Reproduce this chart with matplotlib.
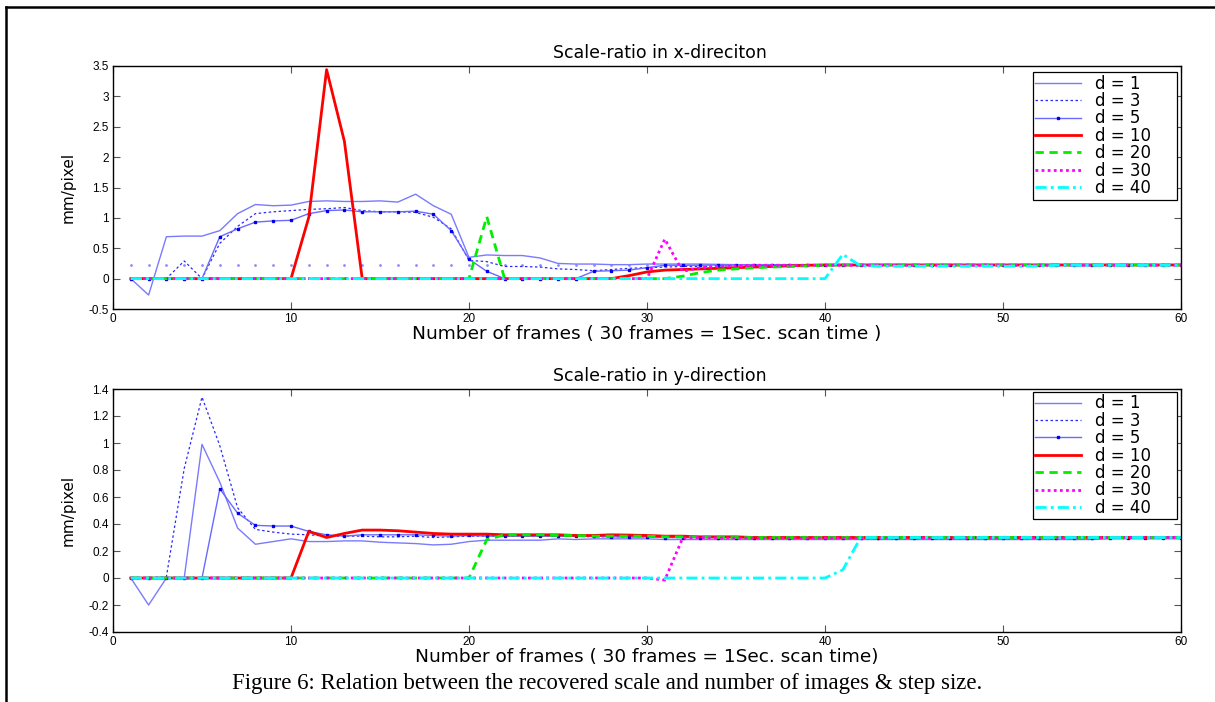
import numpy as np
import matplotlib
matplotlib.use("Agg")
import matplotlib.pyplot as plt
from matplotlib.lines import Line2D

plt.rcParams['font.family'] = ['DejaVu Sans']

# numero de frames
frames = np.arange(1, 61)

# Scale-ratio en x
d1_x = [0.00, -0.27, 0.69, 0.70, 0.70, 0.79, 1.07, 1.22, 1.20, 1.21,
        1.27, 1.28, 1.27, 1.27, 1.28, 1.26, 1.39, 1.20, 1.06, 0.35,
        0.39, 0.38, 0.38, 0.34, 0.25, 0.24, 0.24, 0.23, 0.23, 0.24,
        0.24, 0.24, 0.24, 0.235, 0.23, 0.23, 0.23, 0.23, 0.23, 0.23,
        0.23, 0.23, 0.23, 0.23, 0.23, 0.23, 0.23, 0.23, 0.23, 0.23,
        0.23, 0.23, 0.23, 0.23, 0.23, 0.23, 0.23, 0.23, 0.23, 0.23]
d3_x = [0.00, 0.00, 0.00, 0.29, 0.00, 0.58, 0.86, 1.07, 1.10, 1.12,
        1.14, 1.15, 1.17, 1.12, 1.10, 1.10, 1.09, 1.01, 0.82, 0.30,
        0.28, 0.20, 0.20, 0.19, 0.16, 0.15, 0.13, 0.15, 0.17, 0.18,
        0.19, 0.20, 0.20, 0.21, 0.21, 0.22, 0.22, 0.22, 0.22, 0.22,
        0.22, 0.22, 0.22, 0.22, 0.22, 0.22, 0.22, 0.22, 0.22, 0.22,
        0.22, 0.22, 0.22, 0.22, 0.22, 0.22, 0.22, 0.22, 0.22, 0.22]
d5_x = [0.00, 0.00, 0.00, 0.00, 0.00, 0.69, 0.82, 0.93, 0.95, 0.96,
        1.07, 1.12, 1.13, 1.10, 1.10, 1.10, 1.11, 1.06, 0.79, 0.32,
        0.12, 0.00, 0.00, 0.00, 0.00, 0.00, 0.12, 0.13, 0.14, 0.18,
        0.22, 0.22, 0.22, 0.225, 0.225, 0.225, 0.225, 0.225, 0.225, 0.225,
        0.225, 0.225, 0.225, 0.225, 0.225, 0.225, 0.225, 0.225, 0.225, 0.225,
        0.225, 0.225, 0.225, 0.225, 0.225, 0.225, 0.225, 0.225, 0.225, 0.225]
d10_x = [0.00, 0.00, 0.00, 0.00, 0.00, 0.00, 0.00, 0.00, 0.00, 0.00,
         1.01, 3.44, 2.26, 0.00, 0.00, 0.00, 0.00, 0.00, 0.00, 0.00,
         0.00, 0.00, 0.00, 0.00, 0.00, 0.00, 0.00, 0.00, 0.05, 0.11,
         0.14, 0.15, 0.16, 0.17, 0.18, 0.19, 0.20, 0.21, 0.22, 0.225,
         0.225, 0.225, 0.225, 0.225, 0.225, 0.225, 0.225, 0.225, 0.225, 0.225,
         0.225, 0.225, 0.225, 0.225, 0.225, 0.225, 0.225, 0.225, 0.225, 0.225]
d20_x = [0.00, 0.00, 0.00, 0.00, 0.00, 0.00, 0.00, 0.00, 0.00, 0.00,
         0.00, 0.00, 0.00, 0.00, 0.00, 0.00, 0.00, 0.00, 0.00, 0.00,
         1.02, 0.00, 0.00, 0.00, 0.00, 0.00, 0.00, 0.00, 0.00, 0.00,
         0.00, 0.04, 0.10, 0.14, 0.16, 0.18, 0.19, 0.20, 0.21, 0.22,
         0.225, 0.225, 0.225, 0.225, 0.225, 0.225, 0.225, 0.225, 0.225, 0.225,
         0.225, 0.225, 0.225, 0.225, 0.225, 0.225, 0.225, 0.225, 0.225, 0.225]
d30_x = [0.00, 0.00, 0.00, 0.00, 0.00, 0.00, 0.00, 0.00, 0.00, 0.00,
         0.00, 0.00, 0.00, 0.00, 0.00, 0.00, 0.00, 0.00, 0.00, 0.00,
         0.00, 0.00, 0.00, 0.00, 0.00, 0.00, 0.00, 0.00, 0.00, 0.00,
         0.65, 0.12, 0.18, 0.20, 0.21, 0.22, 0.22, 0.22, 0.22, 0.22,
         0.22, 0.22, 0.22, 0.22, 0.22, 0.22, 0.22, 0.22, 0.22, 0.22,
         0.22, 0.22, 0.22, 0.22, 0.22, 0.22, 0.22, 0.22, 0.22, 0.22]
d40_x = [0.00, 0.00, 0.00, 0.00, 0.00, 0.00, 0.00, 0.00, 0.00, 0.00,
         0.00, 0.00, 0.00, 0.00, 0.00, 0.00, 0.00, 0.00, 0.00, 0.00,
         0.00, 0.00, 0.00, 0.00, 0.00, 0.00, 0.00, 0.00, 0.00, 0.00,
         0.00, 0.00, 0.00, 0.00, 0.00, 0.00, 0.00, 0.00, 0.00, 0.00,
         0.40, 0.21, 0.205, 0.205, 0.205, 0.205, 0.205, 0.205, 0.205, 0.205,
         0.205, 0.205, 0.22, 0.22, 0.22, 0.22, 0.22, 0.22, 0.22, 0.22]
ref_x = 0.225  # linea punteada de referencia

# Scale-ratio en y
d1_y = [0.00, -0.20, 0.00, 0.00, 0.99, 0.71, 0.37, 0.25, 0.27, 0.29,
        0.27, 0.27, 0.275, 0.275, 0.265, 0.26, 0.255, 0.245, 0.25, 0.27,
        0.28, 0.28, 0.28, 0.28, 0.29, 0.285, 0.29, 0.29, 0.29, 0.29,
        0.285, 0.285, 0.285, 0.285, 0.285, 0.285, 0.285, 0.285, 0.285, 0.285,
        0.285, 0.285, 0.285, 0.285, 0.285, 0.285, 0.285, 0.285, 0.285, 0.285,
        0.285, 0.285, 0.285, 0.285, 0.285, 0.29, 0.29, 0.29, 0.29, 0.29]
d3_y = [0.00, 0.00, 0.01, 0.81, 1.34, 0.98, 0.52, 0.36, 0.34, 0.325,
        0.32, 0.31, 0.31, 0.31, 0.305, 0.305, 0.31, 0.30, 0.305, 0.31,
        0.31, 0.31, 0.31, 0.31, 0.31, 0.31, 0.305, 0.305, 0.305, 0.305,
        0.30, 0.30, 0.30, 0.30, 0.30, 0.30, 0.30, 0.30, 0.30, 0.30,
        0.30, 0.30, 0.30, 0.30, 0.30, 0.30, 0.30, 0.30, 0.30, 0.30,
        0.30, 0.30, 0.30, 0.30, 0.30, 0.30, 0.30, 0.30, 0.30, 0.30]
d5_y = [0.00, 0.00, 0.00, 0.00, 0.00, 0.66, 0.48, 0.39, 0.385, 0.385,
        0.345, 0.32, 0.31, 0.32, 0.32, 0.32, 0.32, 0.315, 0.31, 0.315,
        0.31, 0.31, 0.31, 0.31, 0.31, 0.31, 0.31, 0.305, 0.305, 0.305,
        0.30, 0.30, 0.30, 0.30, 0.30, 0.30, 0.30, 0.30, 0.30, 0.30,
        0.30, 0.30, 0.30, 0.30, 0.30, 0.30, 0.30, 0.30, 0.30, 0.30,
        0.30, 0.30, 0.30, 0.30, 0.30, 0.30, 0.30, 0.30, 0.30, 0.30]
d10_y = [0.00, 0.00, 0.00, 0.00, 0.00, 0.00, 0.00, 0.00, 0.00, 0.00,
         0.345, 0.30, 0.33, 0.355, 0.355, 0.35, 0.34, 0.33, 0.325, 0.325,
         0.325, 0.32, 0.32, 0.32, 0.32, 0.315, 0.315, 0.32, 0.318, 0.315,
         0.31, 0.31, 0.305, 0.305, 0.305, 0.30, 0.30, 0.30, 0.30, 0.30,
         0.30, 0.30, 0.30, 0.30, 0.30, 0.30, 0.30, 0.30, 0.30, 0.30,
         0.30, 0.30, 0.30, 0.30, 0.30, 0.30, 0.30, 0.30, 0.30, 0.30]
d20_y = [0.00, 0.00, 0.00, 0.00, 0.00, 0.00, 0.00, 0.00, 0.00, 0.00,
         0.00, 0.00, 0.00, 0.00, 0.00, 0.00, 0.00, 0.00, 0.00, 0.00,
         0.285, 0.32, 0.32, 0.32, 0.315, 0.315, 0.31, 0.31, 0.31, 0.31,
         0.305, 0.305, 0.305, 0.30, 0.30, 0.30, 0.30, 0.30, 0.30, 0.30,
         0.30, 0.30, 0.30, 0.30, 0.30, 0.30, 0.30, 0.30, 0.30, 0.30,
         0.30, 0.30, 0.30, 0.30, 0.30, 0.30, 0.30, 0.30, 0.30, 0.30]
d30_y = [0.00, 0.00, 0.00, 0.00, 0.00, 0.00, 0.00, 0.00, 0.00, 0.00,
         0.00, 0.00, 0.00, 0.00, 0.00, 0.00, 0.00, 0.00, 0.00, 0.00,
         0.00, 0.00, 0.00, 0.00, 0.00, 0.00, 0.00, 0.00, 0.00, 0.00,
         -0.015, 0.295, 0.30, 0.295, 0.295, 0.295, 0.295, 0.295, 0.295, 0.295,
         0.295, 0.295, 0.295, 0.295, 0.295, 0.295, 0.295, 0.295, 0.295, 0.295,
         0.295, 0.295, 0.295, 0.295, 0.295, 0.30, 0.30, 0.30, 0.30, 0.30]
d40_y = [0.00, 0.00, 0.00, 0.00, 0.00, 0.00, 0.00, 0.00, 0.00, 0.00,
         0.00, 0.00, 0.00, 0.00, 0.00, 0.00, 0.00, 0.00, 0.00, 0.00,
         0.00, 0.00, 0.00, 0.00, 0.00, 0.00, 0.00, 0.00, 0.00, 0.00,
         0.00, 0.00, 0.00, 0.00, 0.00, 0.00, 0.00, 0.00, 0.00, 0.00,
         0.06, 0.30, 0.30, 0.30, 0.30, 0.30, 0.30, 0.30, 0.30, 0.30,
         0.30, 0.30, 0.30, 0.30, 0.30, 0.30, 0.30, 0.30, 0.30, 0.30]

etiquetas = ['d = 1', 'd = 3', 'd = 5', 'd = 10', 'd = 20', 'd = 30', 'd = 40']

# estilos (color, linea, ancho, marcador)
estilos = [
    dict(color='#7a7aff', ls='-', lw=1.0),
    dict(color='#2a2aff', ls=(0, (2, 2)), lw=0.9),
    dict(color='#6a6aff', ls='-', lw=1.0, marker='s', ms=1.8, mfc='#0000ee', mec='#0000ee'),
    dict(color='#ff0000', ls='-', lw=2.0),
    dict(color='#00ee00', ls=(0, (3, 2)), lw=2.0),
    dict(color='#ff00ff', ls=(0, (1, 1.2)), lw=2.0),
    dict(color='#00ffff', ls=(0, (4, 1.5, 1, 1.5)), lw=2.0),
]

fig = plt.figure(figsize=(12.15, 7.02), dpi=100)
ax1 = fig.add_axes([113/1215, 1-309/702, 1068/1215, 243/702])
ax2 = fig.add_axes([113/1215, 1-632/702, 1068/1215, 243/702])


def dibujar(ax, series, yticks, ylim, titulo, xlabel, leg_top):
    for s, lab, st in zip(series, etiquetas, estilos):
        ax.plot(frames, s, label=lab, **st)
    ax.set_xlim(0, 60)
    ax.set_ylim(*ylim)
    ax.set_xticks(np.arange(0, 61, 10))
    ax.set_yticks(yticks)
    ax.set_yticklabels([f'{v:g}' for v in yticks])
    ax.tick_params(direction='in', top=True, right=True, length=5,
                   width=0.8, color='#555555', labelsize=8.5, pad=3)
    for t in ax.get_xticklabels() + ax.get_yticklabels():
        t.set_family(['Liberation Sans', 'DejaVu Sans'])
    for sp in ax.spines.values():
        sp.set_linewidth(1.0)
    ax.set_title(titulo, fontsize=12.5, pad=6, x=0.512)
    ax.set_xlabel(xlabel, fontsize=13.3, labelpad=0)
    ax.set_ylabel('mm/pixel', fontsize=11, labelpad=9)
    leg = ax.legend(loc='upper right', bbox_to_anchor=(0.8614, 0, 0.1348, leg_top),
                    mode='expand', fontsize=12, frameon=True, fancybox=False,
                    edgecolor='black', framealpha=1, handlelength=2.75,
                    labelspacing=-0.035, borderpad=0.15, handletextpad=0.85,
                    borderaxespad=0)
    leg.get_frame().set_linewidth(0.9)


dibujar(ax1, [d1_x, d3_x, d5_x, d10_x, d20_x, d30_x, d40_x],
        np.arange(-0.5, 3.51, 0.5), (-0.5, 3.5),
        'Scale-ratio in x-direciton',
        'Number of frames ( 30 frames = 1Sec. scan time )', 0.975)
ax1.plot(frames, np.full(len(frames), ref_x), ls='none', marker='.',
         ms=2.0, color='#8c8cff', zorder=1)

dibujar(ax2, [d1_y, d3_y, d5_y, d10_y, d20_y, d30_y, d40_y],
        np.round(np.arange(-0.4, 1.41, 0.2), 1), (-0.4, 1.4),
        'Scale-ratio in y-direction',
        'Number of frames ( 30 frames = 1Sec. scan time)', 0.988)

# marco del documento
fig.add_artist(Line2D([6/1215, 1.0], [1-7/702, 1-7/702], color='black', lw=1.8))
fig.add_artist(Line2D([6/1215, 6/1215], [0.0, 1-7/702], color='black', lw=1.8))

fig.text(0.5, 1-683/702, 'Figure 6: Relation between the recovered scale and number of images & step size.',
         ha='center', va='center', fontsize=16.4, family=['Liberation Serif', 'DejaVu Serif'])

fig.savefig('out.png', dpi=100)
